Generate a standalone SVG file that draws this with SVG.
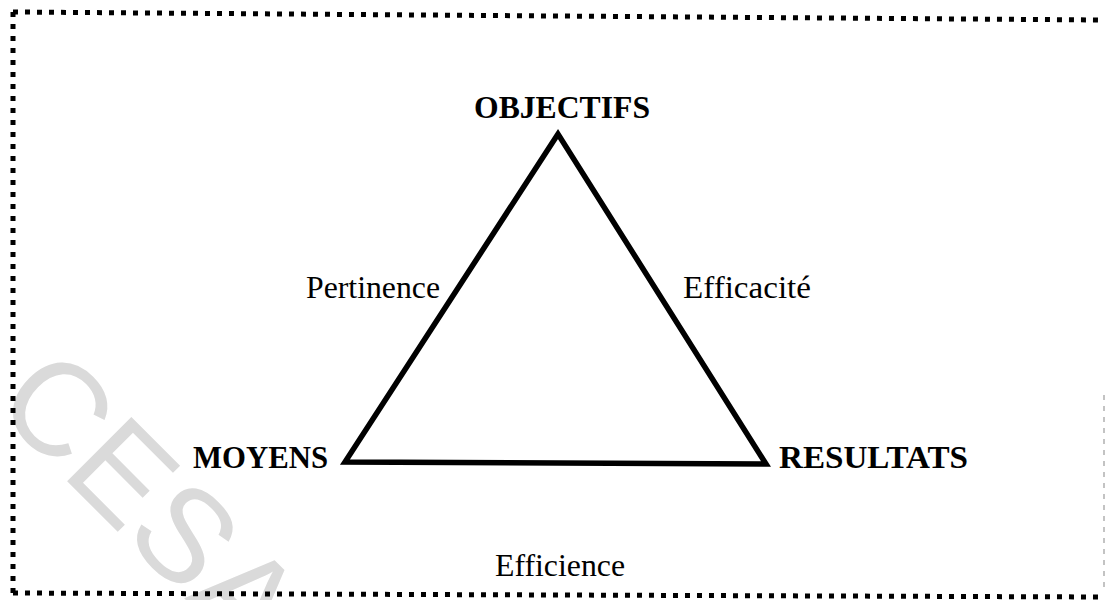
<svg xmlns="http://www.w3.org/2000/svg" width="1106" height="600" viewBox="0 0 1106 600">
  <style>
    .frame { fill: none; stroke: #000; stroke-width: 5; stroke-dasharray: 5 7; }
    .edge { fill: none; stroke: #000; stroke-width: 5.5; stroke-linejoin: miter; }
    .node { font-family: "Liberation Serif", "Times New Roman", serif; font-weight: bold; font-size: 31px; fill: #000; }
    .lbl { font-family: "Liberation Serif", "Times New Roman", serif; font-size: 31px; fill: #000; }
    .mark { font-family: "Liberation Sans", Arial, sans-serif; font-size: 132px; fill: #dadada; }
  </style>
  <rect width="1106" height="600" fill="#fff"/>

  <!-- faint stamp in the lower-left corner -->
  <g id="stamp">
    <text class="mark" transform="translate(-8 406) rotate(45)">CESA</text>
  </g>

  <!-- dotted frame -->
  <g id="frame">
    <line class="frame" x1="13" y1="12" x2="1102" y2="20"/>
    <line class="frame" x1="13" y1="12" x2="13" y2="593"/>
    <line class="frame" x1="13" y1="593" x2="1104" y2="597"/>
    <line x1="1104" y1="395" x2="1104" y2="592" stroke="#b0b0b0" stroke-width="1.5" stroke-dasharray="5 6"/>
  </g>

  <!-- triangle edges -->
  <g id="connectors">
    <path class="edge" d="M558 134 L345 462 L766 464 Z"/>
  </g>

  <g id="objectifs">
    <text class="node" x="474" y="118" textLength="176" lengthAdjust="spacingAndGlyphs">OBJECTIFS</text>
  </g>
  <g id="moyens">
    <text class="node" x="193" y="468" textLength="135" lengthAdjust="spacingAndGlyphs">MOYENS</text>
  </g>
  <g id="resultats">
    <text class="node" x="779" y="468" textLength="189" lengthAdjust="spacingAndGlyphs">RESULTATS</text>
  </g>

  <g id="labels">
    <text class="lbl" x="306" y="298" textLength="134" lengthAdjust="spacingAndGlyphs">Pertinence</text>
    <text class="lbl" x="683" y="298" textLength="128" lengthAdjust="spacingAndGlyphs">Efficacité</text>
    <text class="lbl" x="495" y="576" textLength="130" lengthAdjust="spacingAndGlyphs">Efficience</text>
  </g>
</svg>
